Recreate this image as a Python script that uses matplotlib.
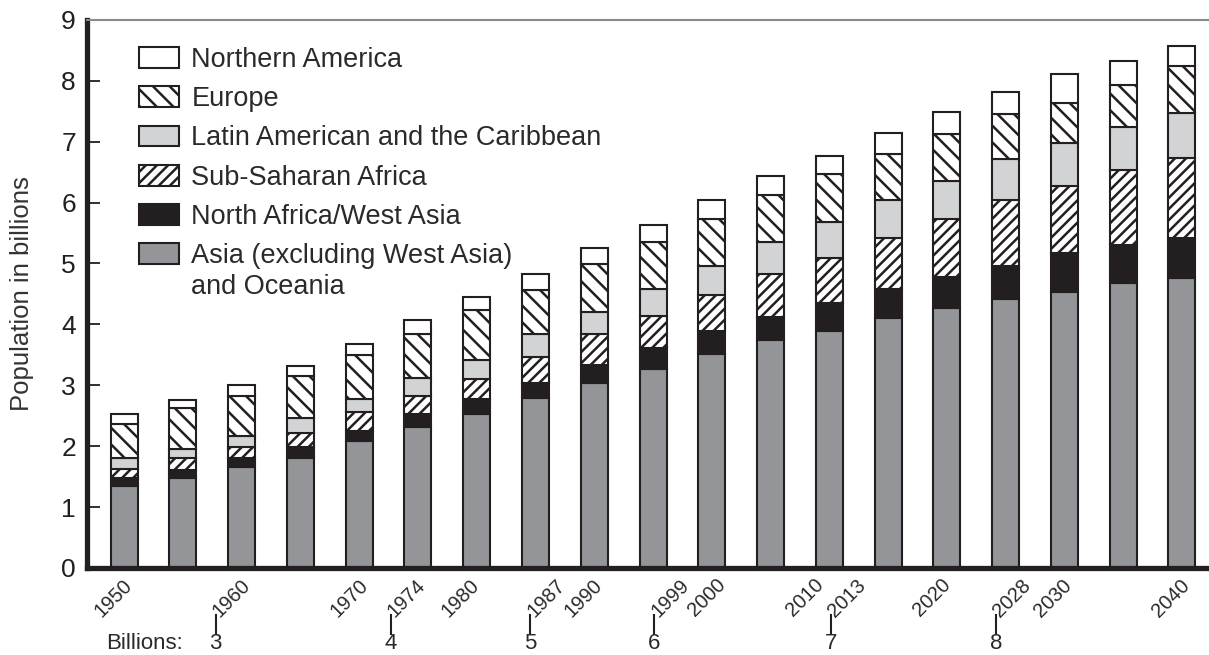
import numpy as np
import matplotlib
matplotlib.use('Agg')
import matplotlib.pyplot as plt
import matplotlib.transforms as mtransforms
from matplotlib.patches import Patch

plt.rcParams['font.family'] = ['Liberation Sans', 'DejaVu Sans']
plt.rcParams['hatch.linewidth'] = 1.8

# population by region, billions
years = [1950, 1955, 1960, 1965, 1970, 1975, 1980, 1985, 1990, 1995,
         2000, 2005, 2010, 2015, 2020, 2025, 2030, 2035, 2040]
asia = [1.35, 1.47, 1.65, 1.81, 2.09, 2.31, 2.52, 2.79, 3.03, 3.26,
        3.51, 3.74, 3.89, 4.11, 4.27, 4.41, 4.53, 4.68, 4.76]
nawa = [0.13, 0.14, 0.15, 0.17, 0.16, 0.22, 0.25, 0.24, 0.31, 0.35,
        0.38, 0.38, 0.46, 0.47, 0.51, 0.55, 0.64, 0.63, 0.66]
ssa = [0.15, 0.19, 0.18, 0.23, 0.31, 0.30, 0.34, 0.43, 0.50, 0.53,
       0.60, 0.71, 0.74, 0.84, 0.95, 1.09, 1.11, 1.23, 1.32]
lac = [0.17, 0.16, 0.18, 0.25, 0.21, 0.29, 0.30, 0.38, 0.36, 0.44,
       0.47, 0.52, 0.59, 0.63, 0.63, 0.66, 0.70, 0.71, 0.74]
europe = [0.56, 0.66, 0.66, 0.70, 0.73, 0.72, 0.82, 0.72, 0.79, 0.77,
          0.77, 0.78, 0.79, 0.75, 0.77, 0.75, 0.66, 0.69, 0.76]
n_america = [0.16, 0.13, 0.19, 0.15, 0.18, 0.23, 0.22, 0.27, 0.27, 0.28,
             0.32, 0.30, 0.30, 0.35, 0.36, 0.35, 0.47, 0.39, 0.33]

region_names = ['Asia (excluding West Asia)', 'North Africa/West Asia',
                'Sub-Saharan Africa', 'Latin American and the Caribbean',
                'Europe', 'Northern America']

year_labels = [1950, 1960, 1970, 1974, 1980, 1987, 1990, 1999, 2000,
               2010, 2013, 2020, 2028, 2030, 2040]
milestone_years = [1960, 1974, 1987, 1999, 2013, 2028]
milestone_billions = [3, 4, 5, 6, 7, 8]

# small sideways shifts of the crowded year labels, as in the original
label_nudge = {1960: 0.1, 1970: 0.1, 1974: 1.0, 1980: -0.4, 1987: -0.15,
               1999: -1.6, 2000: 0.55, 2010: -1.15, 2013: -0.55,
               2020: -0.3, 2028: -1.5}

EDGE = '#231f20'
TXT = '#2a2a2a'
styles = [('#939598', ''), ('#231f20', ''), ('white', '///'),
          ('#d1d3d4', ''), ('white', '\\\\'), ('white', '')]

fig = plt.figure(figsize=(12.09, 6.55), dpi=100)
ax = fig.add_axes([0.072, 0.133, 0.928, 0.8365])

series = [asia, nawa, ssa, lac, europe, n_america]
bottom = np.zeros(len(years))
handles = []
for vals, name, (col, hatch) in zip(series, region_names, styles):
    ax.bar(years, vals, width=2.3, bottom=bottom, color=col, hatch=hatch,
           edgecolor=EDGE, linewidth=1.5, zorder=2)
    bottom += np.array(vals)
    handles.append(Patch(facecolor=col, hatch=hatch, edgecolor=EDGE,
                         linewidth=1.5, label=name))

ax.set_xlim(1946.85, 2042.3)
ax.set_ylim(0, 9)
ax.set_xticks([])
ax.set_yticks(range(0, 10))
ax.tick_params(axis='y', direction='in', length=9, width=1.3,
               labelsize=19, pad=8, colors=EDGE)

for side in ['left', 'bottom']:
    ax.spines[side].set_linewidth(3.8)
    ax.spines[side].set_color(EDGE)
ax.spines['top'].set_color('#8a8a8a')
ax.spines['top'].set_linewidth(1.5)
ax.spines['right'].set_visible(False)

ax.set_ylabel('Population in billions', fontsize=18.5, color='#333333')
ax.yaxis.set_label_coords(-0.047, 0.5)

leg = ax.legend(handles[::-1], [h.get_label() for h in handles[::-1]],
                loc='upper left', bbox_to_anchor=(0.046, 0.951), frameon=False,
                fontsize=19.5, handlelength=1.5, handleheight=0.8,
                handletextpad=0.45, labelspacing=0.49, borderpad=0,
                borderaxespad=0)
for t in leg.get_texts():
    t.set_color(TXT)

trans = mtransforms.blended_transform_factory(ax.transData, ax.transAxes)
for yr in year_labels:
    x = yr + 0.4 + label_nudge.get(yr, 0)
    ax.text(x, -0.026, str(yr), transform=trans, rotation=45,
            rotation_mode='anchor', ha='right', va='center',
            fontsize=14.5, color=TXT)

ax.text(1948.5, -0.138, 'Billions:', transform=trans, ha='left', va='center',
        fontsize=16, color=TXT)
for yr, b in zip(milestone_years, milestone_billions):
    x = yr + 0.4 + label_nudge.get(yr, 0) - 2.7
    ax.plot([x, x], [-0.086, -0.12], transform=trans,
            color=EDGE, lw=1.5, clip_on=False)
    ax.text(x, -0.138, str(b), transform=trans, ha='center',
            va='center', fontsize=16, color=TXT)

# second line of the last legend entry, kept beside the text, not the box
fig.canvas.draw()
bb = leg.get_texts()[-1].get_window_extent()
x0, y0 = fig.transFigure.inverted().transform((bb.x0, bb.y0 - 5))
fig.text(x0, y0, 'and Oceania', ha='left', va='top', fontsize=19.5, color=TXT)

fig.savefig('out.png', dpi=100)
